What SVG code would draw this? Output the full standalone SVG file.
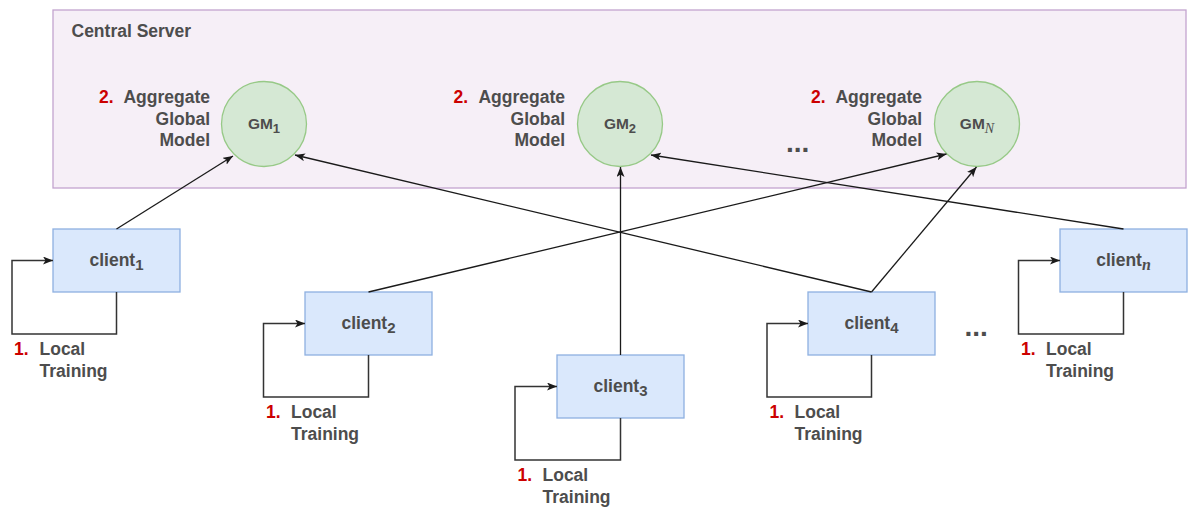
<svg xmlns="http://www.w3.org/2000/svg" width="1197" height="508" viewBox="0 0 1197 508">
  <style>
    .lbl { font-family: "Liberation Sans", Arial, sans-serif; font-weight: bold; font-size: 17.5px; fill: #4d4d4d; }
    .num { fill: #cc0000; }
    .gm { font-family: "Liberation Sans", Arial, sans-serif; font-weight: bold; font-size: 15.5px; fill: #4d4d4d; }
    .server { fill: #f6eff7; stroke: #c3a4cf; stroke-width: 1.3; }
    .model { fill: #d5e8d4; stroke: #97c987; stroke-width: 1.3; }
    .client { fill: #dae8fc; stroke: #8eb0e0; stroke-width: 1.3; }
    .edge { fill: none; stroke: #1a1a1a; stroke-width: 1.3; }
    .loop { fill: none; stroke: #333333; stroke-width: 1.5; }
    .dots { font-family: "Liberation Sans", Arial, sans-serif; font-weight: bold; font-size: 28px; fill: #4d4d4d; }
    .mi { font-family: "Liberation Serif", "Times New Roman", serif; font-style: italic; }
  </style>
  <defs>
    <marker id="arrow" viewBox="0 0 10 8" refX="10" refY="4" markerWidth="10" markerHeight="8" markerUnits="userSpaceOnUse" orient="auto">
      <path d="M0,0 L10,4 L0,8 L2.5,4 z" fill="#1a1a1a"/>
    </marker>
  </defs>

  <!-- server container -->
  <g id="central-server">
    <rect class="server" x="53" y="10" width="1133" height="178"/>
    <text class="lbl" x="71.5" y="37">Central Server</text>
  </g>

  <!-- global models -->
  <g id="gm1">
    <circle class="model" cx="264" cy="124" r="42.5"/>
    <text class="gm" x="264" y="129" text-anchor="middle">GM<tspan dy="4" font-size="13">1</tspan></text>
    <text class="lbl num" x="99" y="103">2.</text>
    <text class="lbl" x="210" y="103" text-anchor="end">Aggregate</text>
    <text class="lbl" x="210" y="124.5" text-anchor="end">Global</text>
    <text class="lbl" x="210" y="146" text-anchor="end">Model</text>
  </g>
  <g id="gm2">
    <circle class="model" cx="620" cy="124" r="42.5"/>
    <text class="gm" x="620" y="129" text-anchor="middle">GM<tspan dy="4" font-size="13">2</tspan></text>
    <text class="lbl num" x="453.5" y="103">2.</text>
    <text class="lbl" x="565" y="103" text-anchor="end">Aggregate</text>
    <text class="lbl" x="565" y="124.5" text-anchor="end">Global</text>
    <text class="lbl" x="565" y="146" text-anchor="end">Model</text>
  </g>
  <g id="gmN">
    <circle class="model" cx="977" cy="124" r="42.5"/>
    <text class="gm" x="977" y="129" text-anchor="middle">GM<tspan class="mi" dy="4" font-size="14" font-weight="normal">N</tspan></text>
    <text class="lbl num" x="811" y="103">2.</text>
    <text class="lbl" x="922" y="103" text-anchor="end">Aggregate</text>
    <text class="lbl" x="922" y="124.5" text-anchor="end">Global</text>
    <text class="lbl" x="922" y="146" text-anchor="end">Model</text>
  </g>
  <g id="dots-models">
    <text class="dots" x="786" y="152">...</text>
  </g>

  <!-- clients with local training loops -->
  <g id="client1">
    <rect class="client" x="53" y="229" width="127" height="63"/>
    <text class="lbl" x="116.5" y="266" text-anchor="middle">client<tspan dy="4" font-size="15">1</tspan></text>
    <path class="loop" d="M116.5,292 V334 H12 V260.5 H53" marker-end="url(#arrow)"/>
    <text class="lbl num" x="14" y="355">1.</text>
    <text class="lbl" x="39.5" y="355">Local</text>
    <text class="lbl" x="39.5" y="377">Training</text>
  </g>
  <g id="client2">
    <rect class="client" x="305" y="292" width="127" height="63"/>
    <text class="lbl" x="368.5" y="329" text-anchor="middle">client<tspan dy="4" font-size="15">2</tspan></text>
    <path class="loop" d="M368.5,355 V397 H263.5 V323.5 H305" marker-end="url(#arrow)"/>
    <text class="lbl num" x="266" y="418">1.</text>
    <text class="lbl" x="291" y="418">Local</text>
    <text class="lbl" x="291" y="440">Training</text>
  </g>
  <g id="client3">
    <rect class="client" x="557" y="355" width="127" height="63"/>
    <text class="lbl" x="620.5" y="392" text-anchor="middle">client<tspan dy="4" font-size="15">3</tspan></text>
    <path class="loop" d="M620.5,418 V460 H515 V386.5 H557" marker-end="url(#arrow)"/>
    <text class="lbl num" x="517.5" y="481">1.</text>
    <text class="lbl" x="542.5" y="481">Local</text>
    <text class="lbl" x="542.5" y="503">Training</text>
  </g>
  <g id="client4">
    <rect class="client" x="808" y="292" width="127" height="63"/>
    <text class="lbl" x="871.5" y="329" text-anchor="middle">client<tspan dy="4" font-size="15">4</tspan></text>
    <path class="loop" d="M871.5,355 V397 H767 V323.5 H808" marker-end="url(#arrow)"/>
    <text class="lbl num" x="769.5" y="418">1.</text>
    <text class="lbl" x="794.5" y="418">Local</text>
    <text class="lbl" x="794.5" y="440">Training</text>
  </g>
  <g id="clientn">
    <rect class="client" x="1060" y="229" width="127" height="63"/>
    <text class="lbl" x="1123.5" y="266" text-anchor="middle">client<tspan class="mi" dy="4" font-size="16">n</tspan></text>
    <path class="loop" d="M1123.5,292 V334 H1018.5 V260.5 H1060" marker-end="url(#arrow)"/>
    <text class="lbl num" x="1021" y="355">1.</text>
    <text class="lbl" x="1046" y="355">Local</text>
    <text class="lbl" x="1046" y="377">Training</text>
  </g>
  <g id="dots-clients">
    <text class="dots" x="964.5" y="336">...</text>
  </g>

  <!-- uploads from clients to global models -->
  <g id="connectors">
    <path class="edge" d="M116.5,229 L233,156" marker-end="url(#arrow)"/>
    <path class="edge" d="M368.5,292 L946.5,154" marker-end="url(#arrow)"/>
    <path class="edge" d="M620.5,355 L620.5,167" marker-end="url(#arrow)"/>
    <path class="edge" d="M871.5,292 L976.5,167" marker-end="url(#arrow)"/>
    <path class="edge" d="M871.5,292 L295,155" marker-end="url(#arrow)"/>
    <path class="edge" d="M1123.5,229 L651,155" marker-end="url(#arrow)"/>
  </g>
</svg>
